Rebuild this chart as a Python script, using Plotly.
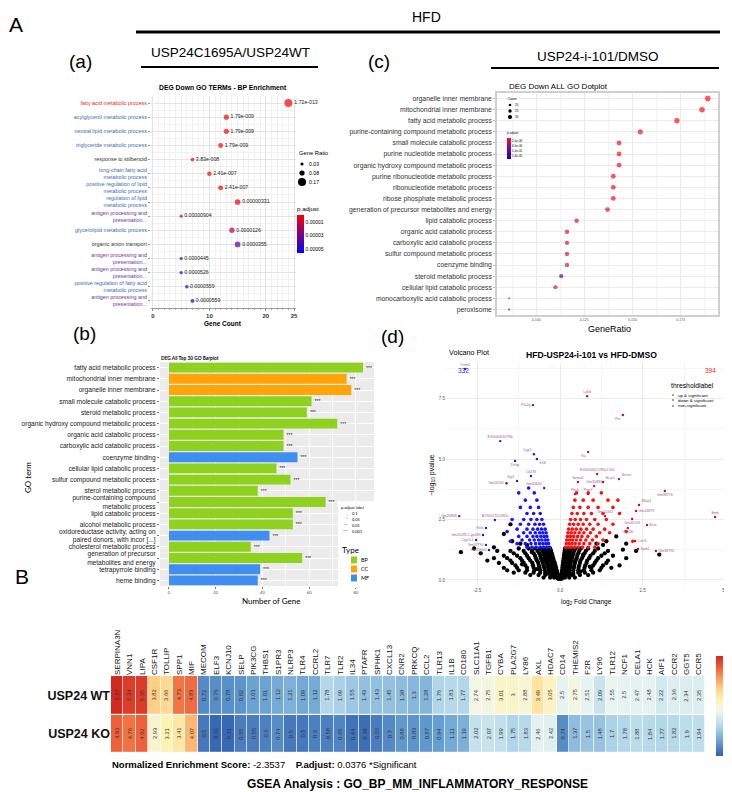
import plotly.graph_objects as go

W, H = 732, 792
SANS = "Liberation Sans"
NARROW = "Liberation Sans Narrow, Liberation Sans"
HUMAN = "Lato"

# ---- panel (a): DEG Down GO TERMs - BP Enrichment
a_terms = ["fatty acid metabolic process", "acylglycerol metabolic process",
           "neutral lipid metabolic process", "triglyceride metabolic process",
           "response to stilbenoid", "long-chain fatty acid<br>metabolic process",
           "positive regulation of lipid<br>metabolic process", "regulation of lipid<br>metabolic process",
           "antigen processing and<br>presentation...", "glycerolipid metabolic process",
           "organic anion transport", "antigen processing and<br>presentation...",
           "antigen processing and<br>presentation...", "positive regulation of fatty acid<br>metabolic process",
           "antigen processing and<br>presentation..."]
a_group = ["red", "blue", "blue", "blue", "black", "blue", "blue", "blue",
           "purple", "blue", "black", "purple", "purple", "blue", "purple"]
a_count = [24, 13, 13, 12, 7, 10, 12, 15, 5, 14, 15, 5, 5, 6, 7]
a_ratio = [0.17, 0.092, 0.092, 0.085, 0.05, 0.071, 0.085, 0.106, 0.035, 0.099, 0.106, 0.035, 0.035, 0.043, 0.05]
a_padj = [1.72e-13, 1.79e-9, 1.79e-9, 1.79e-9, 3.83e-8, 2.41e-7, 2.41e-7, 3.31e-6,
          9.04e-6, 1.26e-5, 3.55e-5, 4.45e-5, 5.26e-5, 5.59e-5, 5.59e-5]
a_plabel = ["1.72e-013", "1.79e-009", "1.79e-009", "1.79e-009", "3.83e-008", "2.41e-007",
            "2.41e-007", "0.00000331", "0.00000904", "0.0000126", "0.0000355", "0.0000445",
            "0.0000526", "0.0000559", "0.0000559"]

# ---- panel (c): DEG Down ALL GO Dotplot
c_terms = ["organelle inner membrane", "mitochondrial inner membrane", "fatty acid metabolic process",
           "purine-containing compound metabolic process", "small molecule catabolic process",
           "purine nucleotide metabolic process", "organic hydroxy compound metabolic process",
           "purine ribonucleotide metabolic process", "ribonucleotide metabolic process",
           "ribose phosphate metabolic process", "generation of precursor metabolites and energy",
           "lipid catabolic process", "organic acid catabolic process", "carboxylic acid catabolic process",
           "sulfur compound metabolic process", "coenzyme binding", "steroid metabolic process",
           "cellular lipid catabolic process", "monocarboxylic acid catabolic process", "peroxisome"]
c_ratio = [0.189, 0.186, 0.173, 0.154, 0.143, 0.143, 0.143, 0.140, 0.140, 0.140,
           0.137, 0.121, 0.116, 0.116, 0.116, 0.116, 0.113, 0.110, 0.086, 0.086]
c_count = [36, 35, 33, 29, 27, 27, 27, 26, 26, 26, 26, 23, 22, 22, 22, 22, 21, 21, 16, 16]
c_padj = [1e-9, 1e-9, 1e-10, 2e-8, 3e-7, 3e-7, 3e-7, 6e-7, 6e-7, 6e-7,
          8e-7, 1.2e-6, 1.5e-6, 1.5e-6, 1.5e-6, 1.5e-6, 9.5e-6, 2e-6, 1.5e-6, 1.6e-5]

# ---- panel (b): DEG All Top 30 GO Barplot
b_terms = ["fatty acid metabolic process", "mitochondrial inner membrane", "organelle inner membrane",
           "small molecule catabolic process", "steroid metabolic process",
           "organic hydroxy compound metabolic process", "organic acid catabolic process",
           "carboxylic acid catabolic process", "coenzyme binding", "cellular lipid catabolic process",
           "sulfur compound metabolic process", "sterol metabolic process",
           "purine-containing compound<br>metabolic process", "lipid catabolic process",
           "alcohol metabolic process", "oxidoreductase activity, acting on<br>paired donors, with incor [...]",
           "cholesterol metabolic process", "generation of precursor<br>metabolites and energy",
           "tetrapyrrole binding", "heme binding"]
b_genes = [83, 76, 78, 61, 59, 72, 49, 49, 55, 46, 52, 38, 67, 53, 53, 43, 35, 57, 39, 38]
b_type = ["BP", "CC", "CC", "BP", "BP", "BP", "BP", "BP", "MF", "BP",
          "BP", "BP", "BP", "BP", "BP", "MF", "BP", "BP", "MF", "MF"]
type_colors = {"BP": "#8fd11f", "CC": "#ffa50a", "MF": "#3f8ef0"}

# ---- panel (d): volcano plot (y, [x ...])
black_rows = [
    (0.05, [-0.02, 0.02, -0.06, 0.05]),
    (0.1, [-0.05, -0.1, -0.18, -0.3, -0.5, 0.04, 0.08, 0.15, 0.28, 0.45]),
    (0.2, [-0.06, -0.12, -0.2, -0.3, -0.45, -0.65, -0.9, 0.04, 0.08, 0.15, 0.25, 0.4, 0.6, 0.85]),
    (0.3, [-0.08, -0.14, -0.22, -0.32, -0.45, -0.6, -0.8, -1.05, -1.4, 0.05, 0.1, 0.17, 0.27, 0.4, 0.55, 0.75, 1.0]),
    (0.4, [-0.1, -0.16, -0.24, -0.34, -0.46, -0.6, -0.78, -1.0, -1.25, -1.6, 0.06, 0.11, 0.18, 0.28, 0.4,
           0.55, 0.72, 0.95, 1.2]),
    (0.5, [-0.12, -0.18, -0.26, -0.36, -0.48, -0.62, -0.8, -1.0, -1.3, -1.7, 0.07, 0.12, 0.2, 0.3, 0.42,
           0.56, 0.74, 0.95, 1.25, 1.55]),
    (0.6, [-0.14, -0.2, -0.28, -0.38, -0.5, -0.64, -0.82, -1.05, -1.35, 0.08, 0.13, 0.21, 0.31, 0.43,
           0.58, 0.76, 1.0, 1.3]),
    (0.7, [-0.16, -0.22, -0.3, -0.4, -0.52, -0.66, -0.84, -1.1, -1.45, -1.85, 0.09, 0.14, 0.22, 0.32,
           0.45, 0.6, 0.8, 1.05, 1.4]),
    (0.8, [-0.19, -0.25, -0.33, -0.43, -0.55, -0.7, -0.9, -1.15, -1.5, 0.1, 0.16, 0.24, 0.34, 0.47, 0.62,
           0.82, 1.1, 1.45]),
    (0.9, [-0.21, -0.27, -0.35, -0.45, -0.58, -0.73, -0.95, -1.2, -1.6, -2.0, 0.11, 0.17, 0.25, 0.36, 0.5,
           0.66, 0.88, 1.15]),
    (1.0, [-0.23, -0.29, -0.37, -0.48, -0.6, -0.76, -1.0, -1.3, -1.7, 0.12, 0.18, 0.27, 0.38, 0.52, 0.7,
           0.92, 1.25, 1.6]),
    (1.1, [-0.25, -0.31, -0.4, -0.5, -0.63, -0.8, -1.05, -1.4, 0.13, 0.2, 0.29, 0.4, 0.55, 0.74, 1.0, 1.35]),
    (1.2, [-0.27, -0.34, -0.43, -0.54, -0.68, -0.85, -1.1, -1.5, -1.9, 0.14, 0.21, 0.31, 0.43, 0.58, 0.78,
           1.05, 1.45]),
    (1.3, [-0.3, -0.38, -0.48, -0.6, -0.75, -0.95, -1.25, 0.15, 0.23, 0.34, 0.47, 0.63, 0.85, 1.15]),
]
black_extra = [(-2.4, 1.1), (-2.2, 0.8), (-2.6, 1.3), (2.0, 0.9), (2.3, 1.2), (1.8, 0.6), (-1.45, 1.6),
               (-1.7, 1.9), (-1.5, 2.3), (-1.2, 1.5), (1.4, 1.6), (1.7, 1.8), (1.3, 1.45), (2.0, 1.5),
               (-3.0, 1.15), (3.0, 1.05), (-1.0, 1.45), (1.1, 1.5), (-2.0, 1.35), (1.9, 1.25),
               (-0.42, 0.25), (0.35, 0.22), (-0.7, 0.45), (0.62, 0.35), (-0.55, 0.85), (0.45, 0.75),
               (-0.85, 1.15), (0.7, 1.05), (-1.15, 0.65), (0.9, 0.55)]
blue_rows = [
    (1.35, [-0.32, -0.4, -0.5, -0.6, -0.72, -0.85, -1.0]),
    (1.5, [-0.35, -0.43, -0.52, -0.62, -0.74, -0.88, -1.05, -1.3]),
    (1.65, [-0.37, -0.45, -0.55, -0.65, -0.78, -0.92, -1.15]),
    (1.8, [-0.4, -0.48, -0.58, -0.7, -0.82, -1.0, -1.25]),
    (1.95, [-0.42, -0.52, -0.62, -0.75, -0.9, -1.1]),
    (2.1, [-0.45, -0.56, -0.68, -0.82, -1.0, -1.3]),
    (2.3, [-0.5, -0.62, -0.76, -0.95, -1.2]),
    (2.5, [-0.55, -0.7, -0.88, -1.1, -1.45]),
    (2.75, [-0.6, -0.8, -1.0]),
    (3.0, [-0.65, -0.9, -1.2]),
    (3.3, [-0.7, -1.05]),
    (3.6, [-0.78, -1.25]),
]
blue_extra = [(-1.6, 2.0), (-1.5, 1.6), (-0.95, 3.8)]
red_rows = [
    (1.35, [0.17, 0.25, 0.34, 0.44, 0.55, 0.68, 0.85, 1.05]),
    (1.5, [0.19, 0.27, 0.36, 0.46, 0.58, 0.72, 0.9, 1.15]),
    (1.65, [0.2, 0.29, 0.38, 0.49, 0.62, 0.78, 0.98, 1.3]),
    (1.8, [0.22, 0.31, 0.41, 0.53, 0.66, 0.84, 1.1]),
    (1.95, [0.24, 0.34, 0.45, 0.58, 0.72, 0.92, 1.2, 1.5]),
    (2.1, [0.26, 0.37, 0.49, 0.63, 0.8, 1.0, 1.35]),
    (2.3, [0.29, 0.41, 0.55, 0.7, 0.9, 1.15, 1.6]),
    (2.5, [0.32, 0.46, 0.62, 0.8, 1.05, 1.4]),
    (2.75, [0.36, 0.52, 0.72, 0.95, 1.3, 1.8]),
    (3.0, [0.4, 0.6, 0.85, 1.15, 1.6]),
    (3.3, [0.45, 0.7, 1.0, 1.45]),
    (3.6, [0.5, 0.85, 1.25]),
]
red_extra = [(2.0, 2.0), (2.2, 1.6), (1.75, 3.3)]
volc_labels = [(-2.87, 8.72, "Trem2", "top center"), (0.82, 7.6, "Ly6d", "top center"),
               (-0.82, 7.23, "Pla2g", "middle left"), (1.9, 6.82, "Fst", "bottom left"),
               (-1.81, 5.74, "E330009J07Rik", "top center"), (-0.79, 5.2, "Cyp2", "top left"),
               (-0.7, 5.0, "Krt8", "bottom right"), (-1.36, 4.92, "Dnap", "bottom center"),
               (0.85, 5.29, "Sa", "bottom left"), (-0.88, 4.3, "Cd276", "top center"),
               (-1.62, 4.0, "Gm26162", "middle left"), (-1.3, 4.09, "Ugt1", "top left"),
               (-0.48, 3.8, "Gm40660", "top left"), (1.12, 4.38, "E330020D12Rik1700", "top center"),
               (0.54, 4.05, "Sema6", "top center"), (1.3, 4.05, "Hcar1", "top right"),
               (1.03, 3.88, "Gm35880", "top center"), (1.78, 4.17, "Serinc", "top right"),
               (0.45, 3.55, "Pnck", "top center"), (0.85, 3.55, "Ptgr2", "top center"),
               (3.17, 3.68, "Gm38776", "bottom center"), (-3.05, 2.64, "Gm26868", "middle left"),
               (2.39, 3.1, "Mfap1", "top right"), (2.3, 2.85, "Gm44879", "middle right"),
               (4.69, 2.6, "Emb", "top center"), (1.36, 2.64, "Gm11400", "top center"),
               (2.18, 2.52, "Gm45109", "bottom center"), (2.63, 2.27, "Ecla", "middle right"),
               (-1.97, 2.48, "A730017D24Rik", "top center"), (-2.24, 2.15, "Rnls", "middle left"),
               (2.05, 2.15, "Ces2b", "bottom center"), (-2.33, 1.86, "Gm20285-Cyp2b9", "middle left"),
               (-2.54, 1.65, "Cyp2c1", "middle left"), (-2.24, 1.45, "Gm37790", "middle left"),
               (-2.15, 1.24, "Gm13600", "middle left"), (2.27, 1.61, "Cxcl5", "middle right"),
               (2.36, 1.28, "Spib1", "middle right"), (2.9, 1.2, "Gm38790", "middle right")]

# ---- panel B: GSEA heatmap
genes = ["SERPINA3N", "VNN1", "LIPA", "CSF1R", "TOLLIP", "SPP1", "MIF", "MECOM", "ELF3", "KCNJ10",
         "SELP", "PIK3CG", "THBS1", "S1PR3", "NLRP3", "TLR4", "CCRL2", "TLR7", "TLR2", "IL34",
         "PTAFR", "SPHK1", "CXCL13", "CNR2", "PRKCQ", "CCL2", "TLR13", "IL1B", "CD180", "SLC11A1",
         "TGFB1", "CYBA", "PLA2G7", "LY86", "AXL", "HDAC7", "CD14", "THEMIS2", "F2R", "LY96",
         "TLR12", "NCF1", "CELA1", "HCK", "AIF1", "CCR2", "GGT5", "CCR5"]
wt_vals = [5.87, 5.34, 5.35, 3.82, 3.66, 4.73, 4.83, 0.72, 0.76, 0.78, 0.82, 1.01, 1.01, 1.12, 1.21, 1.09,
           1.12, 1.78, 1.69, 1.55, 1.43, 1.43, 1.45, 1.38, 1.3, 1.28, 1.76, 1.81, 1.77, 2.74, 2.75, 3.01,
           3, 2.88, 3.49, 3.05, 2.5, 2.75, 2.51, 2.09, 2.55, 2.5, 2.47, 2.48, 2.22, 2.36, 2.34, 2.35]
ko_vals = [4.93, 4.76, 4.92, 2.93, 3.21, 3.41, 4.07, 0.5, 0.31, 0.31, 0.55, 0.55, 0.6, 0.74, 0.5, 0.5,
           0.6, 0.58, 0.65, 0.44, 0.38, 0.55, 0.7, 0.88, 0.83, 0.87, 0.94, 1.11, 1.19, 2.02, 2.07, 1.99,
           1.75, 1.83, 2.46, 2.42, 0.74, 1.37, 1.5, 1.48, 1.7, 1.78, 1.88, 1.84, 1.77, 1.82, 1.9, 1.94]
row_names = ["USP24 WT", "USP24 KO"]

label_colors = {"red": "#e8262a", "blue": "#3c6db4", "black": "#333333", "purple": "#6b3a98"}


def px(x):
    return x / W


def py(y):
    return 1 - y / H


def flatten(rows, extra):
    xs = [x for y, row in rows for x in row] + [p[0] for p in extra]
    ys = [y for y, row in rows for x in row] + [p[1] for p in extra]
    return xs, ys


fig = go.Figure()


def note(x, y, text, size, color="#000", xa="center", ya="middle", family=SANS, angle=0):
    fig.add_annotation(x=px(x), y=py(y), xref="paper", yref="paper", text=text, showarrow=False,
                       font=dict(size=size, color=color, family=family), xanchor=xa, yanchor=ya,
                       textangle=angle, borderpad=0)


def hline(x0, x1, y, w):
    fig.add_shape(type="line", xref="paper", yref="paper", x0=px(x0), x1=px(x1), y0=py(y), y1=py(y),
                  line=dict(color="black", width=w))


def dot(cx, cy, d, color="black"):
    r = d / 2
    fig.add_shape(type="circle", xref="paper", yref="paper", x0=px(cx - r), x1=px(cx + r),
                  y0=py(cy + r), y1=py(cy - r), fillcolor=color, line=dict(width=0))


def box(x0, y0, x1, y1, color):
    fig.add_shape(type="rect", xref="paper", yref="paper", x0=px(x0), x1=px(x1), y0=py(y1), y1=py(y0),
                  fillcolor=color, line=dict(width=0))


# ---------- (a) dot plot
fig.add_trace(go.Scatter(
    x=a_count, y=list(range(len(a_terms))), mode="markers+text", xaxis="x", yaxis="y",
    text=a_plabel, textposition="middle right", textfont=dict(size=5.2, color="#222"),
    marker=dict(size=[2 + 35 * r for r in a_ratio], color=[-p for p in a_padj],
                colorscale=[[0, "#0000ff"], [1, "#ff0000"]], cmin=-5.59e-5, cmax=0, line=dict(width=0),
                showscale=True,
                colorbar=dict(x=px(289), xanchor="left", y=py(220), yanchor="middle", len=50 / H,
                              thickness=7, tickvals=[-1e-5, -3e-5, -5e-5],
                              ticktext=["0.00001", "0.00003", "0.00005"], tickfont=dict(size=5),
                              ticks="", outlinewidth=0, xpad=0, ypad=0,
                              title=dict(text="p.adjust", side="top", font=dict(size=6.2)))),
    showlegend=False, cliponaxis=False, hoverinfo="skip"))

# ---------- (c) dot plot
fig.add_trace(go.Scatter(
    x=c_ratio, y=list(range(len(c_terms))), mode="markers", xaxis="x2", yaxis="y2",
    marker=dict(size=[2 + 3.6 * ((c - 16) / 20) ** 0.35 for c in c_count], color=[-p for p in c_padj],
                colorscale=[[0, "#0000ff"], [1, "#ff1020"]], cmin=-1.6e-5, cmax=0, line=dict(width=0),
                showscale=True,
                colorbar=dict(x=px(499), xanchor="left", y=py(136), yanchor="middle", len=30 / H,
                              thickness=4, tickvals=[-2e-6, -6e-6, -1e-5, -1.4e-5],
                              ticktext=["2.0e-06", "6.0e-06", "1.0e-05", "1.4e-05"], tickfont=dict(size=3),
                              ticks="", outlinewidth=0, xpad=0, ypad=0,
                              title=dict(text="p.adjust", side="top", font=dict(size=3.2)))),
    showlegend=False, hoverinfo="skip"))

# ---------- (b) bar chart
fig.add_trace(go.Bar(
    x=b_genes, y=list(range(len(b_terms))), orientation="h", xaxis="x3", yaxis="y3", width=0.88,
    marker=dict(color=[type_colors[t] for t in b_type], line=dict(width=0)),
    text=["***"] * len(b_terms), textposition="outside", textfont=dict(size=5, color="#222"),
    cliponaxis=False, showlegend=False, hoverinfo="skip"))

# ---------- (d) volcano
for rows, extra, col, sz in [(black_rows, black_extra, "black", 4.3),
                             (blue_rows, blue_extra, "#1515ff", 3.6),
                             (red_rows, red_extra, "#ff1010", 3.6)]:
    xs, ys = flatten(rows, extra)
    fig.add_trace(go.Scatter(x=xs, y=ys, mode="markers", xaxis="x4", yaxis="y4",
                             marker=dict(size=sz, color=col, line=dict(width=0)),
                             showlegend=False, hoverinfo="skip"))
fig.add_trace(go.Scatter(
    x=[v[0] for v in volc_labels], y=[v[1] for v in volc_labels], mode="markers+text",
    xaxis="x4", yaxis="y4", text=[v[2] for v in volc_labels], textposition=[v[3] for v in volc_labels],
    textfont=dict(size=3.6, color="#a0628f"),
    marker=dict(size=2.4, color=["#2020c0" if v[0] < 0 else "#c01020" for v in volc_labels]),
    showlegend=False, hoverinfo="skip", cliponaxis=False))

# ---------- B heatmap
heat_scale = [[0, "#2f5fae"], [0.15, "#6aa3d3"], [0.3, "#b5d9ea"], [0.45, "#eef7f1"],
              [0.56, "#fff3b3"], [0.67, "#fed28a"], [0.8, "#f89050"], [0.9, "#ec5736"], [1, "#d22a20"]]
fig.add_trace(go.Heatmap(
    z=[wt_vals, ko_vals], x=list(range(len(genes))), y=[0, 1], xaxis="x5", yaxis="y5",
    colorscale=heat_scale, zmin=0.2, zmax=5.55, xgap=0.7, ygap=1.2, hoverinfo="skip",
    colorbar=dict(x=px(708), xanchor="left", y=py(698), yanchor="middle", len=100 / H, thickness=7,
                  tickvals=[1, 2, 3, 4, 5], tickfont=dict(size=7, color="#333"), ticks="",
                  outlinewidth=0, xpad=0, ypad=0)))
for r, vals in enumerate([wt_vals, ko_vals]):
    for i, v in enumerate(vals):
        fig.add_annotation(x=i, y=r, xref="x5", yref="y5", text=f"{v:g}", showarrow=False,
                           textangle=-90, font=dict(size=5.8, color="#333"))

# ---------- axes
grid_a = "#e4e4e4"
fig.update_layout(
    width=W, height=H, margin=dict(l=0, r=0, t=0, b=0, autoexpand=False),
    paper_bgcolor="white", plot_bgcolor="white", font=dict(family=SANS, color="#000"),
    barmode="overlay",
    xaxis=dict(domain=[px(143), px(288)], range=[-0.35, 25.35], anchor="y", automargin=False,
               tickvals=[0, 10, 20, 25], ticktext=["<b>0</b>", "<b>10</b>", "<b>20</b>", "<b>25</b>"],
               tickfont=dict(size=6, color="#333"), showgrid=True, gridcolor=grid_a, zeroline=False,
               showline=True, linecolor="#999", linewidth=0.8, ticks="outside", ticklen=2, tickcolor="#999",
               minor=dict(dtick=1, showgrid=True, gridcolor="#f1f1f1", ticks="outside", ticklen=1,
                          tickcolor="#aaa")),
    yaxis=dict(domain=[py(300), py(88)], range=[14.5, -0.5], anchor="x", automargin=False,
               tickvals=list(range(len(a_terms))),
               ticktext=[f'<span style="color:{label_colors[g]}">{t}</span>' for t, g in zip(a_terms, a_group)],
               tickfont=dict(size=5.4), showgrid=True, gridcolor=grid_a, zeroline=False,
               ticks="outside", ticklen=2, tickcolor="#999",
               minor=dict(tickvals=[i + 0.5 for i in range(-1, 15)], showgrid=True, gridcolor="#f1f1f1")),
    xaxis2=dict(domain=[px(489), px(710)], range=[0.0797, 0.1943], anchor="y2", automargin=False,
                tickvals=[0.1, 0.125, 0.15, 0.175], ticktext=["0.100", "0.125", "0.150", "0.175"],
                tickfont=dict(size=3.6, color="#555"), showgrid=True, gridcolor="#ebebeb", zeroline=False,
                showline=True, mirror=True, linecolor="#cfcfcf", linewidth=1.5, ticks="",
                minor=dict(dtick=0.0125, tick0=0.1, showgrid=True, gridcolor="#f4f4f4")),
    yaxis2=dict(domain=[py(307), py(85)], range=[19.5, -0.5], anchor="x2", automargin=False,
                tickvals=list(range(len(c_terms))), ticktext=c_terms,
                tickfont=dict(size=6.8, color="#333"), showgrid=True, gridcolor="#ebebeb", zeroline=False,
                showline=True, mirror=True, linecolor="#cfcfcf", linewidth=1.5, ticks="outside",
                ticklen=2, tickcolor="#bbb"),
    xaxis3=dict(domain=[px(152), px(366)], range=[-3.8, 87.7], anchor="y3", automargin=False,
                tickvals=[0, 20, 40, 60, 80], tickfont=dict(size=4.2, color="#555", family=HUMAN),
                showgrid=True, gridcolor="white", gridwidth=1, zeroline=False, ticks="outside",
                ticklen=2, tickcolor="#777",
                minor=dict(dtick=10, showgrid=True, gridcolor="#f7f7f7", gridwidth=0.5)),
    yaxis3=dict(domain=[py(578), py(354)], range=[19.5, -0.5], anchor="x3", automargin=False,
                tickvals=list(range(len(b_terms))), ticktext=b_terms,
                tickfont=dict(size=6.6, color="#222", family=NARROW), showgrid=True, gridcolor="white",
                zeroline=False, ticks="outside", ticklen=2, tickcolor="#777"),
    xaxis4=dict(domain=[px(438), px(720)], range=[-3.45, 5.08], anchor="y4", automargin=False,
                tickvals=[-2.5, 0, 2.5, 5], ticktext=["-2.5", "0.0", "2.5", "5.0"],
                tickfont=dict(size=4.5, color="#555"), showgrid=True, gridcolor="#ebebeb", zeroline=False,
                ticks="", minor=dict(dtick=1.25, tick0=0, showgrid=True, gridcolor="#f5f5f5")),
    yaxis4=dict(domain=[py(578), py(355)], range=[-0.25, 8.97], anchor="x4", automargin=False,
                tickvals=[0, 2.5, 5, 7.5], ticktext=["0.0", "2.5", "5.0", "7.5"],
                tickfont=dict(size=4.5, color="#555"), showgrid=True, gridcolor="#ebebeb", zeroline=False,
                ticks="", minor=dict(dtick=1.25, tick0=0, showgrid=True, gridcolor="#f5f5f5")),
    xaxis5=dict(domain=[px(103), px(697)], range=[-0.5, 47.5], anchor="y5", side="top", automargin=False,
                tickvals=list(range(len(genes))), ticktext=genes, tickangle=-90,
                tickfont=dict(size=8, color="#111"), showgrid=False, zeroline=False, ticks=""),
    yaxis5=dict(domain=[py(745), py(668)], range=[1.5, -0.5], anchor="x5", automargin=False,
                tickvals=[0, 1], ticktext=[f"<b>{n}</b>" for n in row_names],
                tickfont=dict(size=12.5, color="#111", family=NARROW), showgrid=False, zeroline=False,
                ticks=""),
)

# gray panel background for (b)
fig.add_shape(type="rect", xref="x3 domain", yref="y3 domain", x0=0, x1=1, y0=0, y1=1,
              fillcolor="#ebebeb", line=dict(width=0), layer="below")

# ---------- headings
note(8, 16, "A", 21)
hline(128, 712, 24, 3)
note(418, 9, "HFD", 14)
note(222, 44, "USP24C1695A/USP24WT", 13.5)
hline(133, 310, 59, 2)
note(72, 53, "(a)", 19)
note(371, 53, "(c)", 19)
note(590, 49, "USP24-i-101/DMSO", 13.5)
hline(483, 711, 60, 2)
note(76, 326, "(b)", 19)
note(384, 328, "(d)", 19)
note(14, 568, "B", 21)

# (a) extras
note(215, 80, "<b>DEG Down GO TERMs - BP Enrichment</b>", 6.8)
note(215, 315, "<b>Gene Count</b>", 6.5)
note(290, 145, "Gene Ratio", 5.8, xa="left")
for yy, d, lab in [(156, 3.1, "0.03"), (165, 5.2, "0.08"), (174, 8, "0.17")]:
    dot(294, yy, d)
    note(300, yy, lab, 5.2, xa="left")

# (c) extras
note(550, 78, "DEG Down ALL GO Dotplot", 8)
note(601, 321, "GeneRatio", 9)
note(499, 91, "Count", 3.2, xa="left")
for yy, d, lab in [(97, 2.6, "20"), (103, 3.4, "25"), (109, 4.2, "30")]:
    dot(502, yy, d)
    note(506, yy, lab, 3, xa="left")

# (b) extras
note(182, 350, "<b>DEG All Top 30 GO Barplot</b>", 4.8, family=HUMAN)
note(263, 593, "Number of Gene", 8, family=HUMAN)
note(20, 470, "GO term", 8, family=HUMAN, angle=-90)
box(330, 493, 366, 580, "white")
note(332, 499, "p.adjust label", 4, xa="left", family=HUMAN)
for yy, s, lab in [(505, ".", "0.1"), (511, "*", "0.05"), (517, "**", "0.01"), (523, "***", "0.001")]:
    note(341, yy, s, 4, xa="right", family=HUMAN)
    note(343, yy, lab, 4, xa="left", family=HUMAN)
note(333, 542, "Type", 8, xa="left", family=HUMAN)
for yy, t in [(552, "BP"), (561, "CC"), (570, "MF")]:
    box(343, yy - 3.5, 349, yy + 3.5, type_colors[t])
    note(352, yy, t, 5.5, xa="left", family=HUMAN)

# (d) extras
note(461, 344, "Volcano Plot", 7.2)
note(583, 347, "<b>HFD-USP24-i-101 vs HFD-DMSO</b>", 8.6)
note(455, 363, "332", 6.5, color="#2030ff")
note(702, 363, "394", 6.5, color="#ff2020")
note(424, 467, "\u2212log<sub>10</sub> pvalue", 7, angle=-90)
note(578, 594, "log<sub>2</sub> Fold Change", 6.5)
note(662, 377, "thresholdlabel", 6.8, xa="left")
for yy, lab in [(387, "up & significant"), (392, "down & significant"), (398, "non-significant")]:
    dot(665, yy, 1.4)
    note(669, yy, lab, 4.4, xa="left")

# B extras
note(103, 756, "<b>Normalized Enrichment Score:</b> -2.3537    <b>P.adjust:</b> 0.0376 *Significant",
     9.5, xa="left", family=NARROW)
note(410, 776, "<b>GSEA Analysis : GO_BP_MM_INFLAMMATORY_RESPONSE</b>", 12, family=NARROW)

fig.write_html("out.html")
